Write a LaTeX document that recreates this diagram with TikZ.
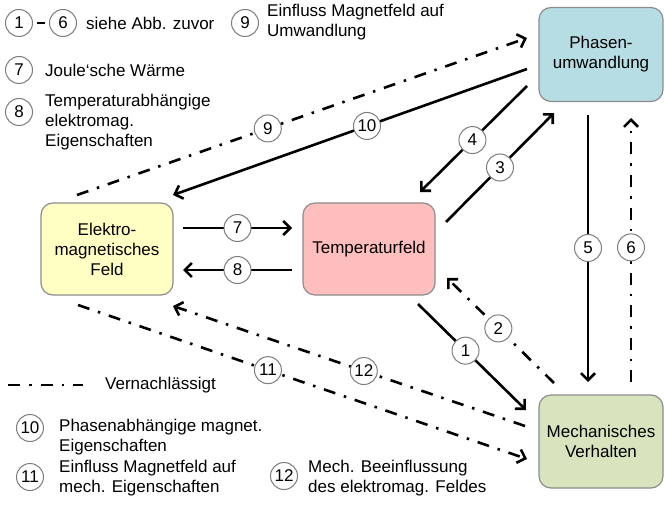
\documentclass[tikz,border=0pt]{standalone}
\usepackage{fontspec}
\setmainfont{Liberation Sans}
\usetikzlibrary{arrows.meta}
\definecolor{phasefill}{RGB}{183,221,228}
\definecolor{emfill}{RGB}{255,255,196}
\definecolor{tempfill}{RGB}{255,190,190}
\definecolor{mechfill}{RGB}{215,228,189}
\definecolor{boxline}{RGB}{140,140,140}
\definecolor{numline}{RGB}{125,125,125}
\begin{document}
\begin{tikzpicture}[x=1pt,y=-1pt,
  font=\fontsize{17}{20}\selectfont,
  box/.style={draw=boxline, line width=1.2pt, rounded corners=12pt, align=center,
    inner sep=0pt, minimum width=124pt, minimum height=94pt},
  num/.style={circle, draw=numline, fill=white, solid, line width=1pt, minimum size=27pt,
    inner sep=0pt, font=\fontsize{17}{17}\selectfont},
  txt/.style={anchor=west, inner sep=0pt, align=left},
  tip/.style={-{Straight Barb[length=7pt,width=14pt]}},
  solidline/.style={line width=2.6pt},
  dashdotline/.style={line width=2.6pt, dash pattern=on 12pt off 9pt on 2.5pt off 9pt}
]
\useasboundingbox (0,0) rectangle (664,508);

% the four fields
\node[box, fill=phasefill] (phase) at (601,54.5) {Phasen-\\umwandlung};
\node[box, fill=emfill, minimum width=132pt, minimum height=92pt] (em) at (107,249) {Elektro-\\magnetisches\\Feld};
\node[box, fill=tempfill, minimum width=132pt, minimum height=92pt] (temp) at (369,249) {Temperaturfeld};
\node[box, fill=mechfill, minimum height=93pt] (mech) at (601,441.5) {Mechanisches\\Verhalten};

% connector end points
\coordinate (a7s) at (183,228);  \coordinate (a7e) at (292,228);
\coordinate (a8s) at (292,270);  \coordinate (a8e) at (183,270);
\coordinate (a9s) at (77,195);   \coordinate (a9e) at (527,38);
\coordinate (a10s) at (527,69);  \coordinate (a10e) at (173,195);
\coordinate (a4s) at (527,86);   \coordinate (a4e) at (420,192);
\coordinate (a3s) at (446,222);  \coordinate (a3e) at (554,113);
\coordinate (a5s) at (588,115);  \coordinate (a5e) at (588,382);
\coordinate (a6s) at (631,382);  \coordinate (a6e) at (631,118);
\coordinate (a1s) at (418,304);  \coordinate (a1e) at (526,410);
\coordinate (a2s) at (554,383);  \coordinate (a2e) at (447,278);
\coordinate (a11s) at (78,305);  \coordinate (a11e) at (527,459);
\coordinate (a12s) at (525,426); \coordinate (a12e) at (173,306);

% couplings
\draw[solidline, tip] (a7s) -- node[num] {7} (a7e);
\draw[solidline, tip] (a8s) -- node[num] {8} (a8e);
\draw[dashdotline, tip] (a9s) -- node[num, pos=0.424] {9} (a9e);
\draw[solidline, tip] (a10s) -- node[num, pos=0.452] {10} (a10e);
\draw[solidline, tip] (a4s) -- node[num, pos=0.51] {4} (a4e);
\draw[solidline, tip] (a3s) -- node[num, pos=0.5] {3} (a3e);
\draw[solidline, tip] (a5s) -- node[num, pos=0.498] {5} (a5e);
\draw[dashdotline, tip] (a6s) -- node[num, pos=0.51] {6} (a6e);
\draw[solidline, tip] (a1s) -- node[num, pos=0.44] {1} (a1e);
\draw[dashdotline, tip] (a2s) -- node[num, pos=0.52] {2} (a2e);
\draw[dashdotline, tip] (a11s) -- node[num, pos=0.423] {11} (a11e);
\draw[dashdotline, tip] (a12s) -- node[num, pos=0.458] {12} (a12e);

% legend
\node[num] (l1) at (19,23) {1};
\node[num] (l6) at (63,23) {6};
\draw[line width=2.6pt, shorten <=4pt, shorten >=4pt] (l1) -- (l6);
\node[txt] (t16) at (86,23) {siehe Abb. zuvor};

\node[num] (l9) at (245,23) {9};
\node[txt] (t9) at (267,22) {Einfluss Magnetfeld auf\\Umwandlung};

\node[num] (l7) at (19,70) {7};
\node[txt] (t7) at (45,70) {Joule‘sche Wärme};

\node[num] (l8) at (19,112) {8};
\node[txt] (t8) at (45,122) {Temperaturabhängige\\elektromag.\\Eigenschaften};

\coordinate (vs) at (8,385);
\coordinate (ve) at (83,385);
\draw[dashdotline] (vs) -- (ve);
\node[txt] (tv) at (105,385) {Vernachlässigt};

\node[num] (l10) at (30,428) {10};
\node[txt] (t10) at (59,437) {Phasenabhängige magnet.\\Eigenschaften};

\node[num] (l11) at (30,477) {11};
\node[txt] (t11) at (59,478) {Einfluss Magnetfeld auf\\mech. Eigenschaften};

\node[num] (l12) at (284,476) {12};
\node[txt] (t12) at (308,478) {Mech. Beeinflussung\\des elektromag. Feldes};
\end{tikzpicture}
\end{document}
